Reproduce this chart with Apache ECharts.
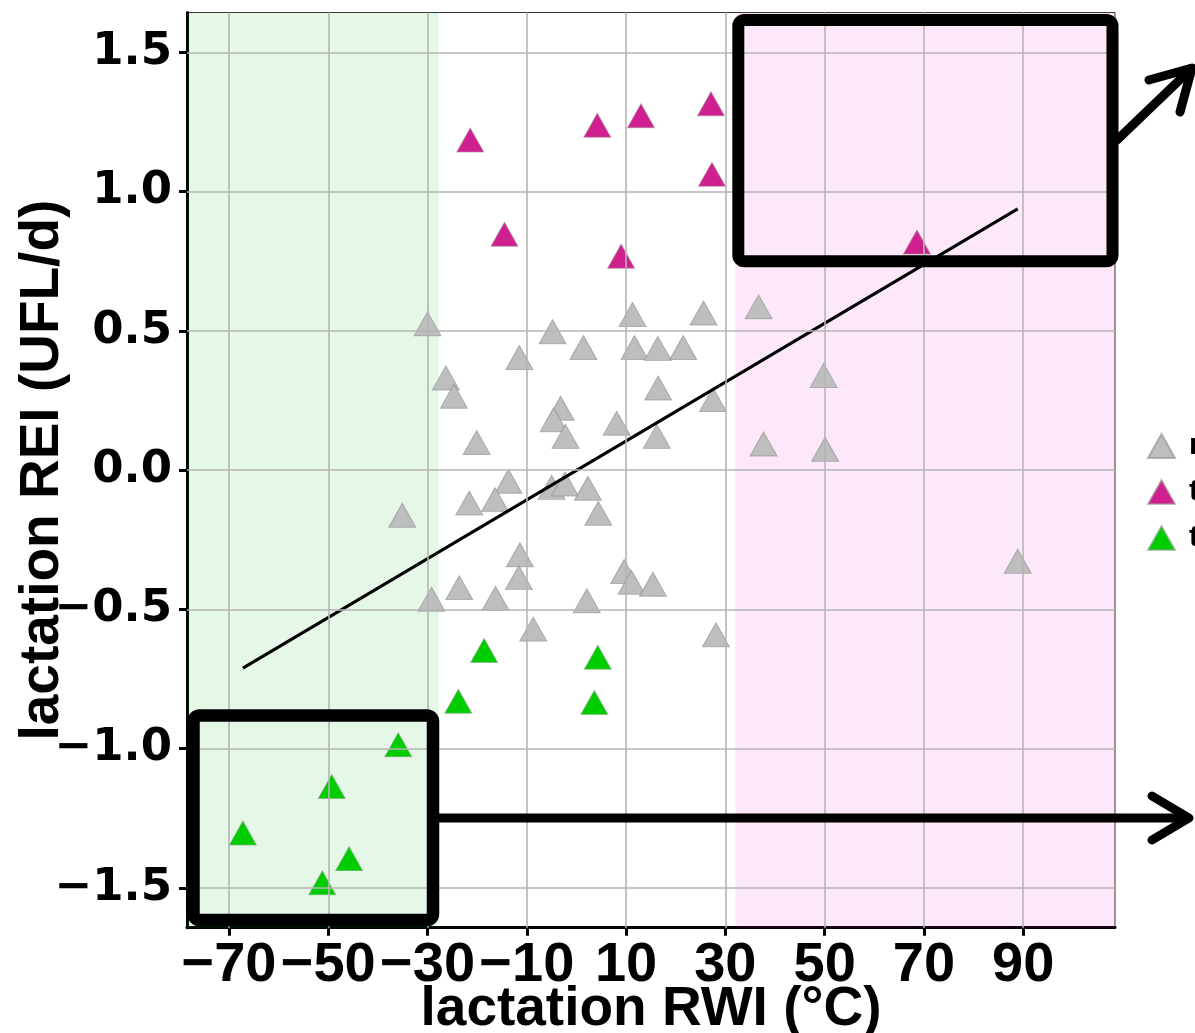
<!DOCTYPE html>
<html>
<head>
<meta charset="utf-8">
<script src="https://cdn.jsdelivr.net/npm/echarts@6/dist/echarts.min.js"></script>
<style>html,body{margin:0;padding:0;background:#fff;}#c{width:1195px;height:1033px;}</style>
</head>
<body>
<div id="c"></div>
<script>
// ---- data ----
const greyX = [-30.0,-4.8,1.4,-11.5,11.3,25.6,11.7,16.4,21.5,-26.3,-24.7,16.45,27.5,-3.2,-4.6,-2.2,8.1,16.2,-20.1,
  -35.1,-13.7,-21.6,-16.4,-5.0,-2.3,2.3,4.4,-11.4,-11.6,-23.6,-29.2,-16.3,9.6,11.1,15.4,2.1,-8.7,28.1,
  36.7,49.8,37.7,50.1,88.9];
const greyY = [0.525,0.497,0.44,0.404,0.559,0.564,0.44,0.437,0.44,0.331,0.265,0.295,0.253,0.222,0.181,0.121,0.168,0.121,0.099,
  -0.162,-0.040,-0.118,-0.106,-0.062,-0.050,-0.065,-0.155,-0.304,-0.386,-0.422,-0.464,-0.460,-0.364,-0.403,-0.410,-0.469,-0.571,-0.591,
  0.586,0.340,0.094,0.075,-0.327];
const magX = [-21.4,4.2,13.0,27.1,27.3,-14.5,9.0,68.6];
const magY = [1.185,1.238,1.272,1.315,1.062,0.847,0.768,0.819];
const greenX = [-18.6,4.3,-23.8,3.6,-35.9,-49.3,-67.2,-45.8,-51.2];
const greenY = [-0.648,-0.672,-0.830,-0.834,-0.986,-1.136,-1.303,-1.395,-1.482];
const fitX = [-67.2, 88.9];
const fitY = [-0.711, 0.938];
const xTicks = [-70,-50,-30,-10,10,30,50,70,90];
const yTicks = [-1.5,-1.0,-0.5,0.0,0.5,1.0,1.5];
const yTickLabels = ['\u22121.5','\u22121.0','\u22120.5','0.0','0.5','1.0','1.5'];
const lowBand = [-78.46, -27.7];
const highBand = [32.0, 108.5];
const groupNames = ['normal','tolerant','tender'];
// ---------------

const zip = (a,b) => a.map((v,i)=>[v,b[i]]);
const chart = echarts.init(document.getElementById('c'), null, {renderer:'canvas'});
const tri = [27,24];
const option = {
  animation:false,
  backgroundColor:'#fff',
  grid:{left:187, top:12.5, right:80, bottom:105.3, containLabel:false, outerBoundsMode:'none',
    show:true, borderColor:'#333', borderWidth:1},
  xAxis:{
    type:'value', min:-78.46, max:108.5,
    name:'lactation RWI (°C)', nameLocation:'middle', nameGap:55, nameMoveOverlap:false,
    nameTextStyle:{fontFamily:'Liberation Sans', fontWeight:'bold', fontSize:55, color:'#000'},
    axisLine:{show:true, onZero:false, lineStyle:{color:'#000', width:3}},
    axisTick:{show:true, customValues:xTicks, length:8, lineStyle:{color:'#000', width:3}},
    axisLabel:{customValues:xTicks, margin:10, fontFamily:'Liberation Sans', fontWeight:'bold', fontSize:56, color:'#000',
      hideOverlap:false, formatter:v=>String(v).replace('-','\u2212')},
    splitLine:{show:false}
  },
  yAxis:{
    type:'value', min:-1.643, max:1.643,
    name:'lactation REI (UFL/d)', nameLocation:'middle', nameGap:117, nameRotate:90, nameMoveOverlap:false,
    nameTextStyle:{fontFamily:'Liberation Sans', fontWeight:'bold', fontSize:55, color:'#000'},
    axisLine:{show:true, onZero:false, lineStyle:{color:'#000', width:3}},
    axisTick:{show:true, customValues:yTicks, length:8, lineStyle:{color:'#000', width:3}},
    axisLabel:{customValues:yTicks, margin:15, fontFamily:'DejaVu Sans', fontWeight:'bold', fontSize:45, color:'#000',
      hideOverlap:false, formatter:v=>{const i=yTicks.findIndex(t=>Math.abs(t-v)<1e-6); return i>=0?yTickLabels[i]:'';}},
    splitLine:{show:false}
  },
  legend:{
    data:groupNames, orient:'vertical', left:1142, top:426, itemWidth:27, itemHeight:24, itemGap:16,
    icon:'triangle',
    textStyle:{fontFamily:'Liberation Sans', fontWeight:'bold', fontSize:30, color:'#000', padding:[0,0,0,9]}
  },
  series:[
    {type:'scatter', name:'bg', data:[], silent:true, z:1,
      markArea:{silent:true, itemStyle:{color:'rgba(0,185,25,0.1)'},
        data:[[{xAxis:lowBand[0]},{xAxis:lowBand[1]}],[{xAxis:highBand[0], itemStyle:{color:'rgba(225,25,185,0.1)'}},{xAxis:highBand[1]}]]},
      markLine:{silent:true, symbol:'none', label:{show:false}, animation:false,
        lineStyle:{color:'#B4B4B4', width:1.6, type:'solid'},
        data:xTicks.map(v=>({xAxis:v})).concat(yTicks.map(v=>({yAxis:v})))}
    },
    {type:'scatter', name:groupNames[0], data:zip(greyX,greyY), symbol:'triangle', symbolSize:tri, z:3,
      itemStyle:{color:'#BEBEBE', borderColor:'rgba(140,140,140,0.6)', borderWidth:1, opacity:1}},
    {type:'scatter', name:groupNames[1], data:zip(magX,magY), symbol:'triangle', symbolSize:tri, z:3,
      itemStyle:{color:'#D02090', borderColor:'rgba(160,140,150,0.6)', borderWidth:1, opacity:1}},
    {type:'scatter', name:groupNames[2], data:zip(greenX,greenY), symbol:'triangle', symbolSize:tri, z:3,
      itemStyle:{color:'#00CD00', borderColor:'rgba(140,160,140,0.6)', borderWidth:1, opacity:1}},
    {type:'line', name:'fit', data:zip(fitX,fitY), symbol:'none', z:4, silent:true,
      lineStyle:{color:'#000', width:3}}
  ],
  graphic:[
    {type:'rect', z:100, shape:{x:738.3, y:20, width:374.2, height:241.3, r:6}, style:{fill:'none', stroke:'#000', lineWidth:12}},
    {type:'rect', z:100, shape:{x:193.5, y:715.5, width:239.5, height:204.5, r:6}, style:{fill:'none', stroke:'#000', lineWidth:12.5}},
    {type:'polyline', z:100, shape:{points:[[1117,140],[1191,69]]}, style:{stroke:'#000', lineWidth:9, lineCap:'round', fill:'none'}},
    {type:'polyline', z:100, shape:{points:[[1149,80],[1192,68],[1180,112]]}, style:{stroke:'#000', lineWidth:9, lineCap:'round', lineJoin:'round', fill:'none'}},
    {type:'polyline', z:100, shape:{points:[[436,818],[1188,818]]}, style:{stroke:'#000', lineWidth:9, lineCap:'round', fill:'none'}},
    {type:'polyline', z:100, shape:{points:[[1152,796],[1189,818],[1152,840]]}, style:{stroke:'#000', lineWidth:9, lineCap:'round', lineJoin:'round', fill:'none'}}
  ]
};
chart.setOption(option);
</script>
</body>
</html>
